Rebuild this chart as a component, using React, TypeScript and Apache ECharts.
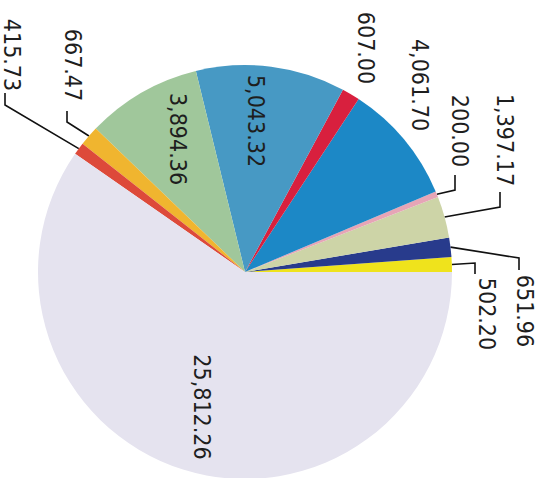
import React, { useEffect, useRef } from 'react';
import * as echarts from 'echarts';

// Slices, counter-clockwise from the 3 o'clock direction
const categories = [
  'Item 1', 'Item 2', 'Item 3', 'Item 4', 'Item 5', 'Item 6',
  'Item 7', 'Item 8', 'Item 9', 'Item 10', 'Item 11',
];
const values = [502.2, 651.96, 1397.17, 200.0, 4061.7, 607.0, 5043.32, 3894.36, 667.47, 415.73, 25812.26];
const colors = [
  '#efe31c', '#283b8c', '#cdd4a7', '#e6a5b6', '#1c88c6', '#d8203e',
  '#4799c4', '#a0c79b', '#f0b52f', '#dd4a3a', '#e5e3ef',
];

// label layout (page coordinates): label centre and leader elbow points
const labelCenters: [number, number][] = [
  [487, 314], [525, 311], [505, 140], [460, 131], [420, 85], [366, 48],
  [256, 121], [178, 139], [73, 65], [12, 55], [202, 407],
];
const leaderElbows: ([number, number][] | null)[] = [
  [[475, 263], [475, 274]],
  [[519, 258], [519, 270]],
  [[500, 207], [500, 192]],
  [[455, 190], [455, 175]],
  null, null, null, null,
  [[67, 122], [67, 111]],
  [[5, 105], [5, 93]],
  null,
];

const fmt = (v: number) =>
  v.toLocaleString('en-US', { minimumFractionDigits: 2, maximumFractionDigits: 2 });

export default function App() {
  const ref = useRef<HTMLDivElement>(null);
  useEffect(() => {
    document.body.style.margin = '0';
    if (!ref.current) return;
    const chart = echarts.init(ref.current, undefined, { renderer: 'svg' });
    chart.setOption({
      animation: false,
      backgroundColor: '#ffffff',
      series: [
        {
          type: 'pie',
          center: [245, 272],
          radius: [0, 207],
          startAngle: 0,
          clockwise: false,
          avoidLabelOverlap: false,
          itemStyle: { borderWidth: 0 },
          label: {
            show: true,
            position: 'outside',
            rotate: -90,
            color: '#1e1e1e',
            fontSize: 23,
            fontFamily: '"DejaVu Sans Condensed", "DejaVu Sans", sans-serif',
            formatter: (p: any) => fmt(p.value),
          },
          labelLine: { show: true, lineStyle: { color: '#111', width: 1.6 }, length: 10, length2: 10 },
          emphasis: { disabled: true },
          data: values.map((v, i) => ({
            name: categories[i],
            value: v,
            itemStyle: { color: colors[i] },
            labelLine: { show: leaderElbows[i] != null },
          })),
          labelLayout: (params: any) => {
            const i = params.dataIndex;
            const [x, y] = labelCenters[i];
            const out: any = { x, y, rotate: -90, align: 'center', verticalAlign: 'middle' };
            const elbows = leaderElbows[i];
            if (elbows && params.labelLinePoints) {
              const p0 = params.labelLinePoints[0];
              out.labelLinePoints = [[p0[0], p0[1]], elbows[0], elbows[1]];
            }
            return out;
          },
        },
      ],
    });
    return () => chart.dispose();
  }, []);
  return <div ref={ref} style={{ width: 544, height: 478 }} />;
}
